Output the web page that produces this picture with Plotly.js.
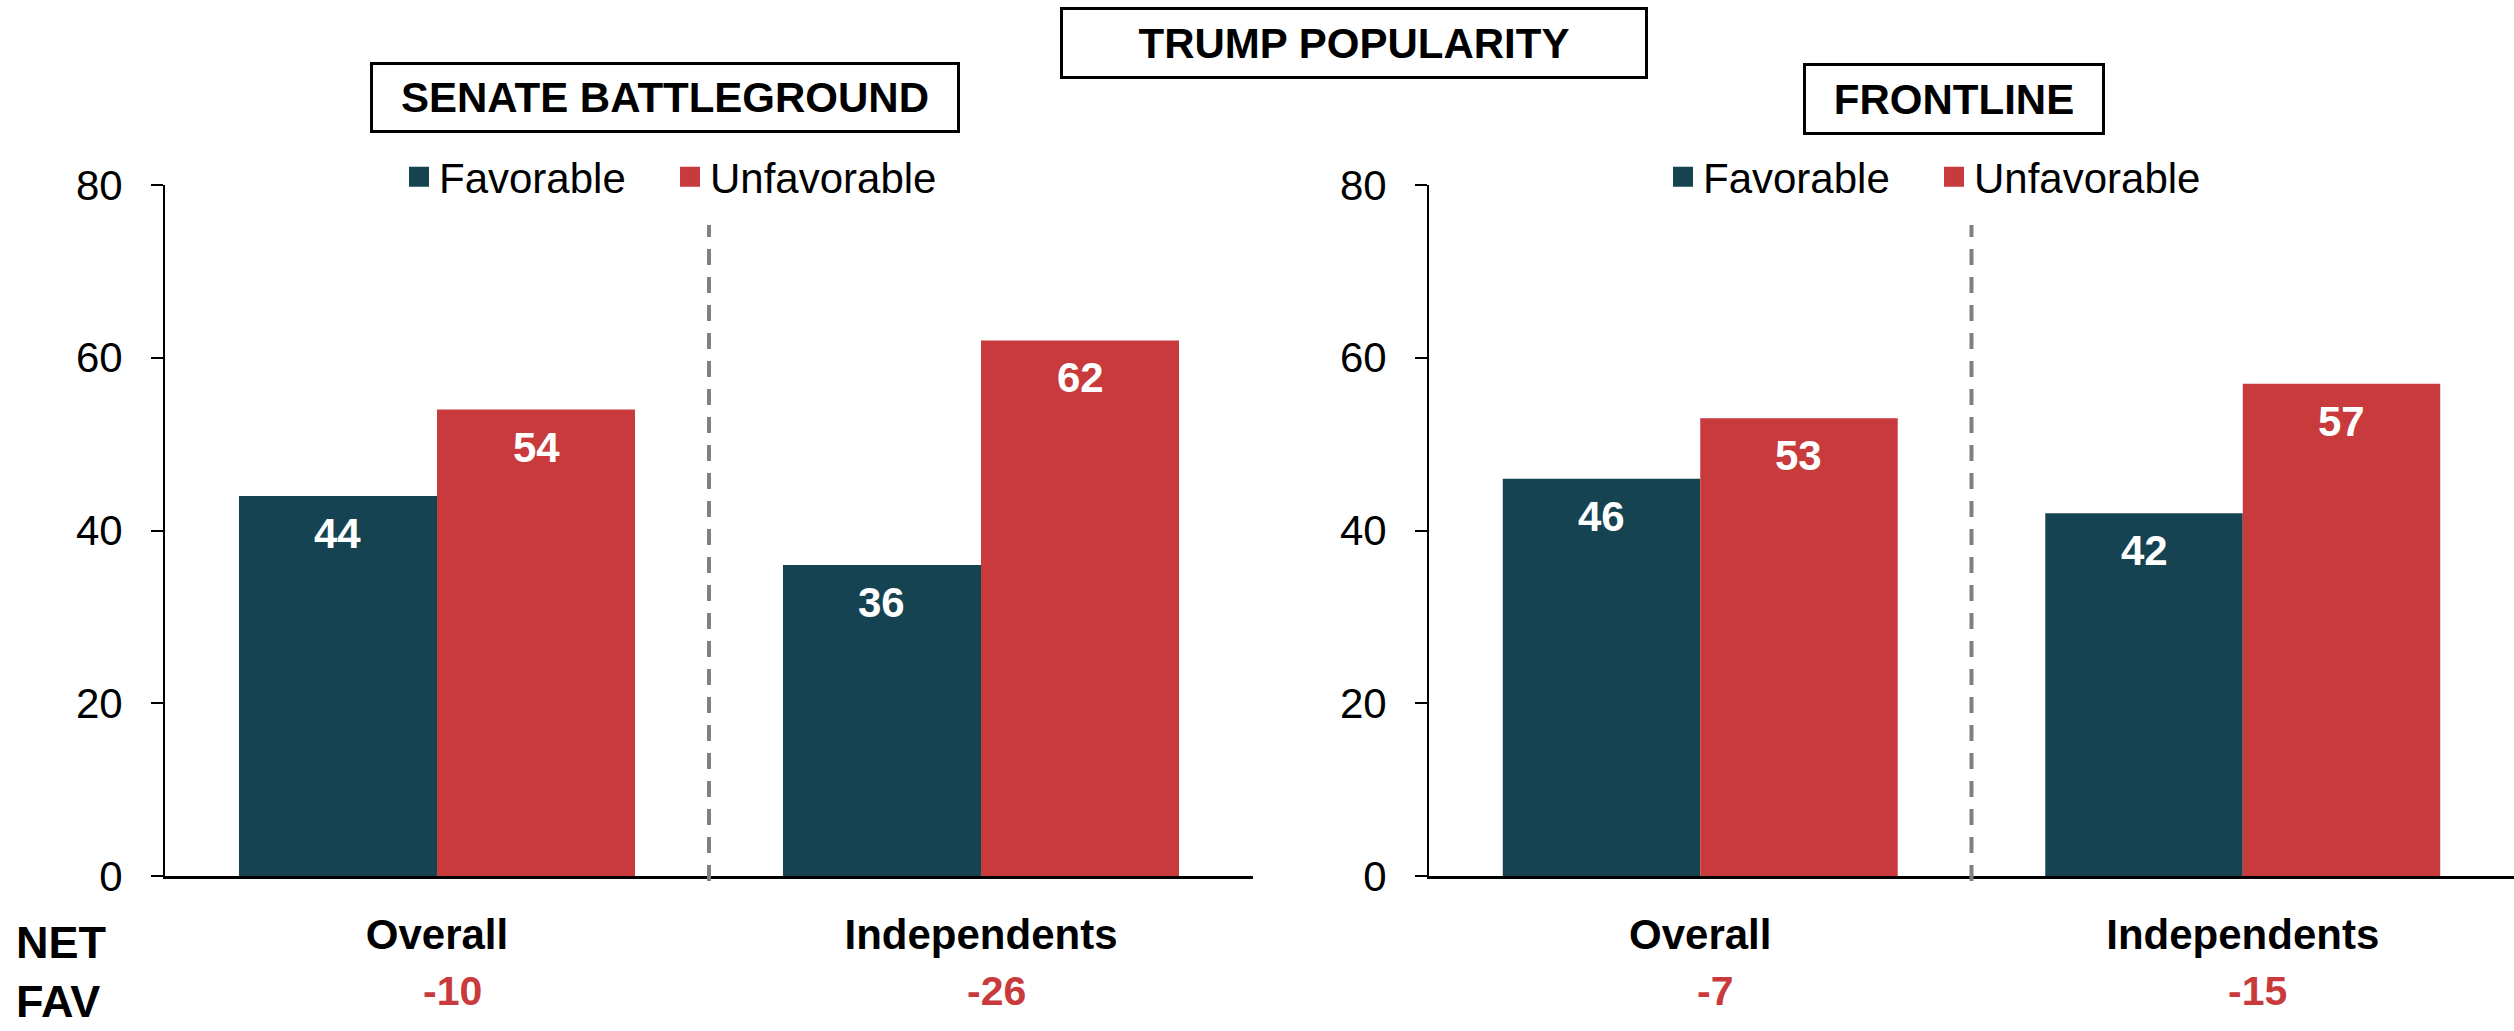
<!DOCTYPE html>
<html><head><meta charset="utf-8">
<script src="https://cdn.plot.ly/plotly-3.0.1.min.js"></script>
<style>html,body{margin:0;padding:0;background:#fff;overflow:hidden}</style>
</head><body><div id="chart" style="width:2514px;height:1031px"></div>
<script>
// ---- data ----
const categories = ['Overall', 'Independents'];
const seriesNames = ['Favorable', 'Unfavorable'];
const senateFavorable = [44, 36];
const senateUnfavorable = [54, 62];
const frontlineFavorable = [46, 42];
const frontlineUnfavorable = [53, 57];
const senateNetFav = [-10, -26];
const frontlineNetFav = [-7, -15];
const yTickVals = [0, 20, 40, 60, 80];
const panelTitles = ['SENATE BATTLEGROUND', 'FRONTLINE'];
const chartTitle = 'TRUMP POPULARITY';
const netLabel = ['NET', 'FAV'];

// ---- style ----
const W = 2514, H = 1031;
const M = {l: 165, r: 0, t: 185, b: 155};
const PW = W - M.l - M.r, PH = H - M.t - M.b;
const px2x = p => (p - M.l) / PW;
const py2y = p => (H - M.b - p) / PH;
const FONT = 'Liberation Sans, Arial, Helvetica, sans-serif';
const NAVY = '#154352', RED = '#C83A3C';
const colors = [NAVY, RED];
const BARGAP = 0.272;

const panels = [
  {fav: senateFavorable, unf: senateUnfavorable, net: senateNetFav, xa: 'x', ya: 'y', legend: 'legend'},
  {fav: frontlineFavorable, unf: frontlineUnfavorable, net: frontlineNetFav, xa: 'x2', ya: 'y2', legend: 'legend2'}
];

const traces = [];
const annotations = [];
panels.forEach((p, k) => {
  [p.fav, p.unf].forEach((vals, s) => {
    traces.push({
      type: 'bar', x: categories, y: vals, name: seriesNames[s],
      xaxis: p.xa, yaxis: p.ya, marker: {color: colors[s]},
      showlegend: false, hoverinfo: 'skip'
    });
    // legend proxy (larger square swatch)
    traces.push({
      type: 'scatter', mode: 'markers', x: [categories[0]], y: [null], name: seriesNames[s],
      xaxis: p.xa, yaxis: p.ya, legend: p.legend,
      marker: {symbol: 'square', size: 16, color: colors[s], line: {width: 4, color: colors[s]}},
      hoverinfo: 'skip'
    });
    const off = (1 - BARGAP) / 4 * (s === 0 ? -1 : 1);
    vals.forEach((v, i) => {
      annotations.push({
        xref: p.xa, yref: p.ya, x: i + off, y: v, yanchor: 'top', xanchor: 'center',
        yshift: -12, showarrow: false, text: '<b>' + v + '</b>',
        font: {family: FONT, size: 42, color: '#ffffff'}
      });
    });
  });
  p.net.forEach((v, i) => {
    annotations.push({
      xref: p.xa, yref: 'paper', x: i, y: py2y(991), xanchor: 'center', yanchor: 'middle',
      xshift: 15, showarrow: false, text: '<b>' + v + '</b>',
      font: {family: FONT, size: 41, color: RED}
    });
  });
});

// Title boxes
function boxAnn(text, cx, cy, w, h) {
  return {
    xref: 'paper', yref: 'paper', x: px2x(cx), y: py2y(cy), xanchor: 'center', yanchor: 'middle',
    showarrow: false, text: '<b>' + text + '</b>', width: w, height: h,
    font: {family: FONT, size: 42, color: '#000'},
    bordercolor: '#000', borderwidth: 3, borderpad: 0, bgcolor: '#fff'
  };
}
annotations.push(boxAnn(chartTitle, 1354, 43, 582, 66));
annotations.push(boxAnn(panelTitles[0], 665, 97.5, 584, 65));
annotations.push(boxAnn(panelTitles[1], 1954, 99, 296, 66));

annotations.push({
  xref: 'paper', yref: 'paper', x: px2x(14), y: py2y(972), xanchor: 'left', yanchor: 'middle',
  align: 'left', showarrow: false, text: '<b>' + netLabel.join('<br>') + '</b>',
  font: {family: FONT, size: 45, color: '#000'}
});

const shapes = ['x', 'x2'].map(xa => ({
  type: 'line', xref: xa, yref: 'paper', x0: 0.5, x1: 0.5, y0: py2y(881), y1: py2y(225),
  line: {color: '#808080', width: 4, dash: '16px,12px'}
}));

const yaxisBase = {
  range: [0, 80], tickvals: yTickVals, showgrid: false, zeroline: false,
  showline: true, linecolor: '#000', linewidth: 2,
  ticks: 'outside', ticklen: 12, tickwidth: 2, tickcolor: '#000',
  tickfont: {family: FONT, size: 42, color: '#000'}, ticklabelstandoff: 20,
  fixedrange: true
};
const xaxisBase = {
  type: 'category', showgrid: false, zeroline: false, showline: true,
  linecolor: '#000', linewidth: 3, ticks: '', ticklabelstandoff: 20,
  tickfont: {family: FONT, size: 42, color: '#000', weight: 'bold'},
  range: [-0.5, 1.5], fixedrange: true
};
const legendBase = {
  orientation: 'h', xanchor: 'center', yanchor: 'middle', itemsizing: 'trace',
  font: {family: FONT, size: 42, color: '#000'}, bgcolor: 'rgba(0,0,0,0)',
  traceorder: 'normal', entrywidth: 226, itemclick: false, itemdoubleclick: false
};

const layout = {
  width: W, height: H, margin: M, paper_bgcolor: '#fff', plot_bgcolor: '#fff',
  font: {family: FONT, color: '#000'},
  barmode: 'group', bargap: BARGAP, bargroupgap: 0,
  xaxis: Object.assign({}, xaxisBase, {domain: [0, 1088 / PW], anchor: 'y'}),
  xaxis2: Object.assign({}, xaxisBase, {domain: [(1429 - M.l) / PW, 1], anchor: 'y2'}),
  yaxis: Object.assign({}, yaxisBase, {anchor: 'x'}),
  yaxis2: Object.assign({}, yaxisBase, {anchor: 'x2'}),
  legend: Object.assign({}, legendBase, {x: px2x(670), y: py2y(177)}),
  legend2: Object.assign({}, legendBase, {x: px2x(1934), y: py2y(177)}),
  annotations: annotations, shapes: shapes, showlegend: true
};

Plotly.newPlot('chart', traces, layout, {displayModeBar: false, staticPlot: true});
</script></body></html>
